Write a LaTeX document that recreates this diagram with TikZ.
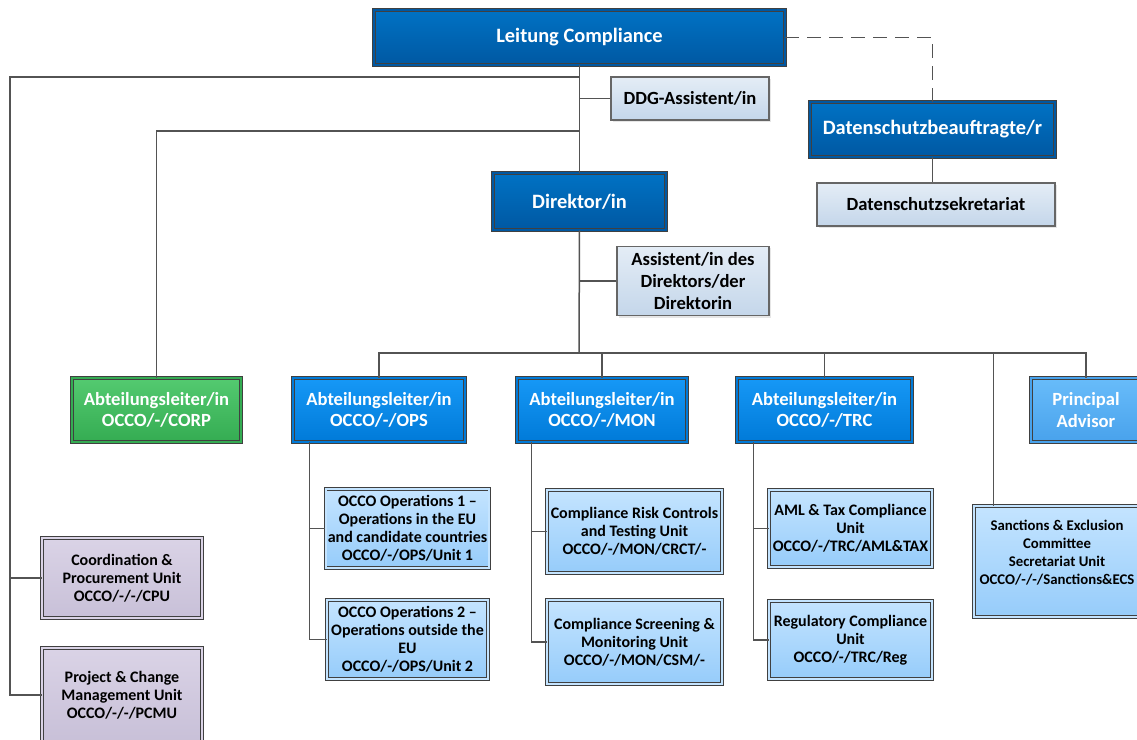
\documentclass[tikz,border=0pt]{standalone}
\usepackage{fontspec}
\setmainfont{Carlito}
\usepackage{tikz}
\usetikzlibrary{shadows}
\definecolor{leadtop}{RGB}{0,114,196}
\definecolor{leadbot}{RGB}{0,88,162}
\definecolor{headtop}{RGB}{22,152,246}
\definecolor{headbot}{RGB}{0,122,216}
\definecolor{advtop}{RGB}{104,188,250}
\definecolor{advbot}{RGB}{72,162,236}
\definecolor{corptop}{RGB}{84,202,112}
\definecolor{corpbot}{RGB}{52,172,82}
\definecolor{unittop}{RGB}{196,228,255}
\definecolor{unitbot}{RGB}{150,204,250}
\definecolor{asstop}{RGB}{228,237,246}
\definecolor{assbot}{RGB}{196,214,234}
\definecolor{stafftop}{RGB}{218,211,230}
\definecolor{staffbot}{RGB}{200,192,216}
\definecolor{rim}{RGB}{64,64,64}
\tikzset{
  box/.style={
    rectangle, align=center, font=\bfseries,
    draw=rim, line width=0.4pt, double distance=0.9pt,
    drop shadow={shadow xshift=1pt, shadow yshift=-1pt, opacity=0.2}
  },
  lead/.style={box, top color=leadtop, bottom color=leadbot, double=leadbot,
    text=white, font=\bfseries\fontsize{10.2}{12}\selectfont},
  head/.style={box, top color=headtop, bottom color=headbot, double=headbot,
    text=white, font=\bfseries\fontsize{9.3}{10.8}\selectfont},
  advisor/.style={head, top color=advtop, bottom color=advbot, double=advbot},
  corp/.style={head, top color=corptop, bottom color=corpbot, double=corpbot},
  helper/.style={rectangle, align=center, draw=rim!80, line width=0.6pt,
    top color=asstop, bottom color=assbot, text=black,
    font=\bfseries\fontsize{9.3}{10.8}\selectfont,
    drop shadow={shadow xshift=1pt, shadow yshift=-1pt, opacity=0.2}},
  unit/.style={box, top color=unittop, bottom color=unitbot, double=unittop,
    inner xsep=1pt, text=black, font=\bfseries\fontsize{8}{9}\selectfont},
  staff/.style={unit, top color=stafftop, bottom color=staffbot, double=stafftop},
  link/.style={draw=rim!90, line width=0.75pt}
}

\begin{document}
\begin{tikzpicture}[x=0.5pt, y=-0.5pt]
  \useasboundingbox (0,0) rectangle (1137,740);
  \clip (0,0) rectangle (1137,740);

  % top level
  \node[lead, minimum width=205.5pt, minimum height=27.5pt] (top) at (579.5,37.5) {Leitung Compliance};
  \node[helper, minimum width=79pt, minimum height=21.5pt] (ddg) at (690,98.5) {DDG-Assistent/in};
  \node[lead, minimum width=122.5pt, minimum height=27.5pt] (dsb) at (932.5,129.5) {Datenschutzbeauftragte/r};
  \node[helper, minimum width=119pt, minimum height=21.5pt] (dss) at (936,204.5) {Datenschutzsekretariat};
  \node[lead, minimum width=86.5pt, minimum height=28.5pt] (dir) at (579.5,201.5) {Direktor/in};
  \node[helper, minimum width=76pt, minimum height=34pt] (asst) at (693,281) {Assistent/in des\\Direktors/der\\Direktorin};

  % departments
  \node[corp, minimum width=84.5pt, minimum height=32pt] (corp) at (156.5,410) {Abteilungsleiter/in\\OCCO/-/CORP};
  \node[head, minimum width=86pt, minimum height=32pt] (ops) at (379,410) {Abteilungsleiter/in\\OCCO/-/OPS};
  \node[head, minimum width=85pt, minimum height=32pt] (mon) at (602,410) {Abteilungsleiter/in\\OCCO/-/MON};
  \node[head, minimum width=87.5pt, minimum height=32pt] (trc) at (824.5,410) {Abteilungsleiter/in\\OCCO/-/TRC};
  \node[advisor, minimum width=55pt, minimum height=32pt] (adv) at (1086,410) {Principal\\Advisor};

  % units
  \node[unit, minimum width=80.5pt, minimum height=38.5pt] (ops1) at (407.5,528.5) {OCCO Operations 1 --\\Operations in the EU\\and candidate countries\\OCCO/-/OPS/Unit 1};
  \node[unit, minimum width=80.5pt, minimum height=39.5pt] (ops2) at (407.5,639.5) {OCCO Operations 2 --\\Operations outside the\\EU\\OCCO/-/OPS/Unit 2};
  \node[unit, minimum width=87.5pt, minimum height=41.5pt] (crct) at (634.5,531.5) {Compliance Risk Controls\\and Testing Unit\\OCCO/-/MON/CRCT/-};
  \node[unit, minimum width=87.5pt, minimum height=42pt] (csm) at (634.5,642) {Compliance Screening \&\\Monitoring Unit\\OCCO/-/MON/CSM/-};
  \node[unit, minimum width=81.5pt, minimum height=38.5pt] (aml) at (850.5,528.5) {AML \& Tax Compliance\\Unit\\OCCO/-/TRC/AML\&TAX};
  \node[unit, minimum width=81.5pt, minimum height=39pt] (reg) at (850.5,640) {Regulatory Compliance\\Unit\\OCCO/-/TRC/Reg};
  \node[unit, inner xsep=0pt, font=\bfseries\fontsize{7.4}{9}\selectfont, minimum width=83pt, minimum height=55.5pt] (sec) at (1057,561.5) {Sanctions \& Exclusion\\Committee\\Secretariat Unit\\OCCO/-/-/Sanctions\&ECS\\\mbox{}};
  \node[staff, minimum width=80pt, minimum height=40pt] (cpu) at (122,578) {Coordination \&\\Procurement Unit\\OCCO/-/-/CPU};
  \node[staff, minimum width=80pt, minimum height=47pt] (pcmu) at (122,695) {Project \& Change\\Management Unit\\OCCO/-/-/PCMU};

  % connectors
  \coordinate (outer) at (10,77);
  \coordinate (side) at (579,131);
  \coordinate (bus) at (579,353);
  \path[link] (top.south) -- (dir.north);
  \path[link] (ddg.west) -- (top.south |- ddg.west);
  \path[link] (top.south |- outer) -- (outer) |- (pcmu.west);
  \path[link] (outer |- cpu.west) -- (cpu.west);
  \path[link] (side) -| (corp.north);
  \path[link, dash pattern=on 7pt off 4pt] (top.east) -| (dsb.north);
  \path[link] (dsb.south) -- (dsb.south |- dss.north);
  \path[link] (dir.south) -- (bus);
  \path[link] (asst.west) -- (dir.south |- asst.west);
  \path[link] (ops.north) |- (adv.north |- bus) -- (adv.north);
  \path[link] (mon.north |- bus) -- (mon.north);
  \path[link] (trc.north |- bus) -- (trc.north);
  \path[link] ([xshift=10pt]sec.north west |- bus) -- ([xshift=10pt]sec.north west);
  \path[link] ([xshift=8.5pt]ops.south west) |- (ops2.west);
  \path[link] ([xshift=8.5pt]ops.south west |- ops1.west) -- (ops1.west);
  \path[link] ([xshift=7.5pt]mon.south west) |- (csm.west);
  \path[link] ([xshift=7.5pt]mon.south west |- crct.west) -- (crct.west);
  \path[link] ([xshift=8.5pt]trc.south west) |- (reg.west);
  \path[link] ([xshift=8.5pt]trc.south west |- aml.west) -- (aml.west);
\end{tikzpicture}
\end{document}
